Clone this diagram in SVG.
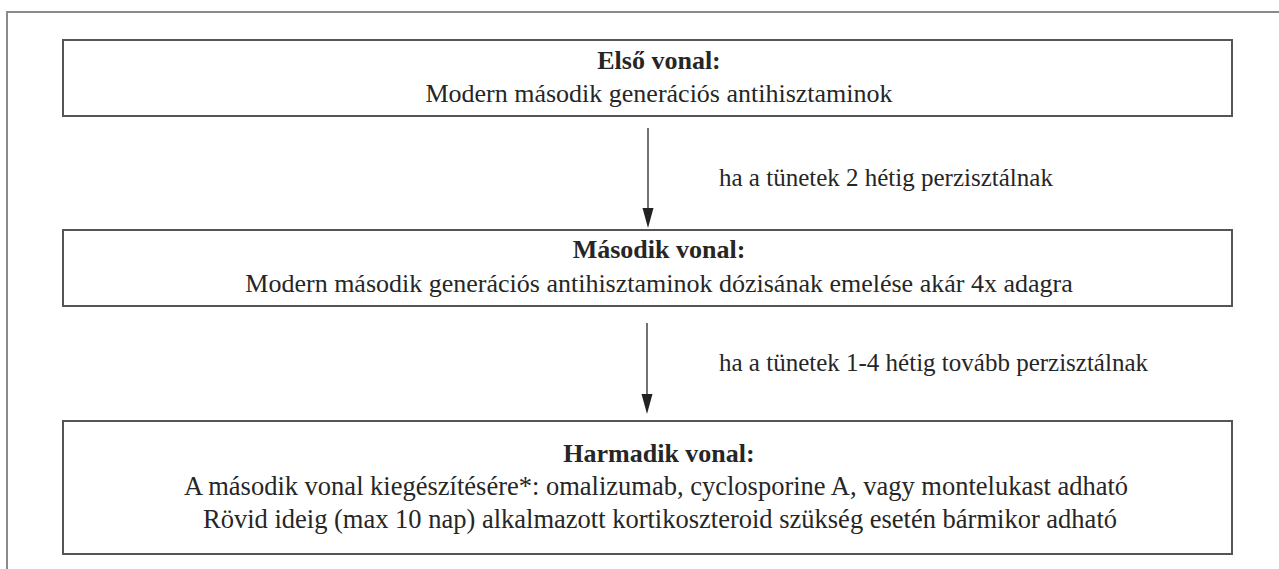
<svg xmlns="http://www.w3.org/2000/svg" width="1279" height="569" viewBox="0 0 1279 569">
<style>
.frame{fill:none;stroke:#8a8a8a;stroke-width:2}
.box{fill:#fff;stroke:#555;stroke-width:2}
.t{font-family:"Liberation Serif","Times New Roman",serif;font-size:26px;fill:#262626;text-anchor:middle}
.b{font-weight:bold}
.lbl{font-family:"Liberation Serif","Times New Roman",serif;font-size:25px;fill:#262626}
.arr{stroke:#444;stroke-width:1.5;fill:none}
.head{fill:#222}
</style>
<rect width="1279" height="569" fill="#fff"/>
<rect class="frame" x="7" y="12" width="1300" height="600"/>
<g id="connectors">
<line class="arr" x1="648" y1="128" x2="648" y2="212"/>
<path class="head" d="M642.5,208 L653.5,208 L648,228 Z"/>
<text class="lbl" x="719" y="186">ha a tünetek 2 hétig perzisztálnak</text>
<line class="arr" x1="647" y1="323" x2="647" y2="398"/>
<path class="head" d="M641.5,394 L652.5,394 L647,414 Z"/>
<text class="lbl" x="719" y="371">ha a tünetek 1-4 hétig tovább perzisztálnak</text>
</g>
<g id="node1">
<rect class="box" x="63" y="40" width="1169" height="76"/>
<text class="t b" x="659" y="69">Első vonal:</text>
<text class="t" x="659" y="102">Modern második generációs antihisztaminok</text>
</g>
<g id="node2">
<rect class="box" x="63" y="230" width="1169" height="76"/>
<text class="t b" x="659" y="258">Második vonal:</text>
<text class="t" x="659" y="292">Modern második generációs antihisztaminok dózisának emelése akár 4x adagra</text>
</g>
<g id="node3">
<rect class="box" x="63" y="421" width="1169" height="133"/>
<text class="t b" x="659" y="462">Harmadik vonal:</text>
<text class="t" x="656" y="495" style="font-size:26.5px">A második vonal kiegészítésére*: omalizumab, cyclosporine A, vagy montelukast adható</text>
<text class="t" x="660" y="528" style="font-size:26.5px">Rövid ideig (max 10 nap) alkalmazott kortikoszteroid szükség esetén bármikor adható</text>
</g>
</svg>
